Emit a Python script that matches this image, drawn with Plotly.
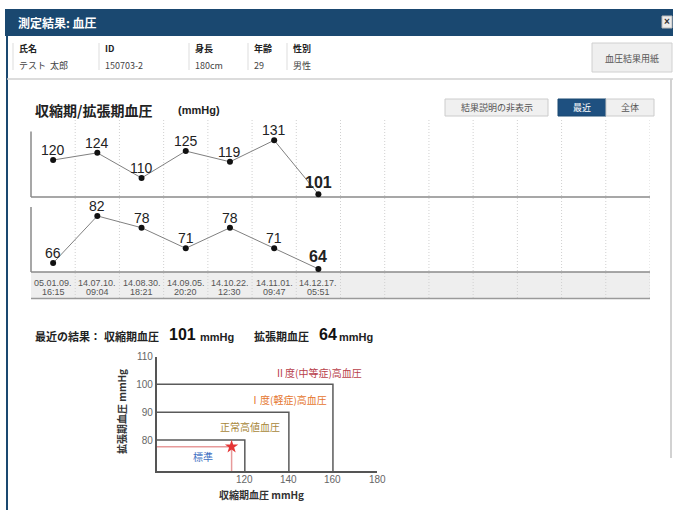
import plotly.graph_objects as go

W, H = 673, 510


def px(x):
    return x / W


def py(y):
    return 1 - y / H


# ---------------- data ----------------
dates = ["05.01.09.", "14.07.10.", "14.08.30.", "14.09.05.", "14.10.22.", "14.11.01.", "14.12.17."]
times = ["16:15", "09:04", "18:21", "20:20", "12:30", "09:47", "05:51"]
systolic = [120, 124, 110, 125, 119, 131, 101]
diastolic = [66, 82, 78, 71, 78, 71, 64]
n_columns = 14

patient_labels = ["氏名", "ID", "身長", "年齢", "性別"]
patient_values = ["テスト  太郎", "150703-2", "180cm", "29", "男性"]

class_sys = [120, 140, 160]
class_dia = [80, 90, 100]
class_names = ["標準", "正常高値血圧", "Ⅰ度(軽症)高血圧", "Ⅱ度(中等症)高血圧"]
class_colors = ["#3d6fc2", "#a8873a", "#e5762e", "#b8404a"]
sys_ticks = [120, 140, 160, 180]
dia_ticks = [80, 90, 100, 110]
marker_sys = [114]
marker_dia = [77.6]

SYS_RANGE = [80, 180]
DIA_RANGE = [68.9, 110]

LAT = "Liberation Sans, Arial, Noto Sans CJK JP, sans-serif"
CJK = "Noto Sans CJK JP, Liberation Sans, sans-serif"
NAVY = "#1a4870"

fig = go.Figure()

# ---------------- trend charts ----------------
xs = list(range(len(systolic)))
fig.add_trace(go.Scatter(
    x=xs, y=systolic, mode="lines+markers",
    line=dict(color="#808080", width=1), marker=dict(color="#111", size=6),
    xaxis="x", yaxis="y", hoverinfo="skip", showlegend=False, cliponaxis=False))
fig.add_trace(go.Scatter(
    x=xs, y=diastolic, mode="lines+markers",
    line=dict(color="#808080", width=1), marker=dict(color="#111", size=6),
    xaxis="x2", yaxis="y2", hoverinfo="skip", showlegend=False, cliponaxis=False))

# ---------------- classification chart ----------------
for s, d in zip(class_sys, class_dia):
    fig.add_trace(go.Scatter(
        x=[SYS_RANGE[0], s, s], y=[d, d, DIA_RANGE[0]], mode="lines",
        line=dict(color="#5a5a5a", width=1.5), xaxis="x3", yaxis="y3",
        hoverinfo="skip", showlegend=False))
fig.add_trace(go.Scatter(
    x=[SYS_RANGE[0], marker_sys[0], marker_sys[0]],
    y=[marker_dia[0], marker_dia[0], DIA_RANGE[0]], mode="lines",
    line=dict(color="#e79a9a", width=1.5), xaxis="x3", yaxis="y3",
    hoverinfo="skip", showlegend=False))
fig.add_trace(go.Scatter(
    x=marker_sys, y=marker_dia, mode="markers",
    marker=dict(symbol="star", color="#e53535", size=10),
    xaxis="x3", yaxis="y3", hoverinfo="skip", showlegend=False, cliponaxis=False))

hidden = dict(visible=False, fixedrange=True)
fig.update_layout(
    width=W, height=H, margin=dict(l=0, r=0, t=0, b=0, pad=0, autoexpand=False),
    paper_bgcolor="white", plot_bgcolor="rgba(0,0,0,0)",
    xaxis=dict(domain=[px(31), px(650)], range=[-0.5, n_columns - 0.5], anchor="y", **hidden),
    yaxis=dict(domain=[py(197), py(120)], range=[99.4, 142.3], anchor="x", **hidden),
    xaxis2=dict(domain=[px(31), px(650)], range=[-0.5, n_columns - 0.5], anchor="y2", **hidden),
    yaxis2=dict(domain=[py(271.7), py(198)], range=[63.05, 88.1], anchor="x2", **hidden),
    xaxis3=dict(domain=[px(156.7), px(377)], range=SYS_RANGE, anchor="y3",
                showline=True, linecolor="#555", linewidth=1.5, showgrid=False,
                zeroline=False, ticks="", showticklabels=False, automargin=False,
                fixedrange=True),
    yaxis3=dict(domain=[py(471), py(356.5)], range=DIA_RANGE, anchor="x3",
                showline=True, linecolor="#555", linewidth=1.5, showgrid=False,
                zeroline=False, ticks="", tickvals=dia_ticks, automargin=False,
                tickfont=dict(family=LAT, size=10, color="#666"), fixedrange=True),
)

shapes = []
ann = []


def rect(x0, y0, x1, y1, fill, line=None, lw=0):
    shapes.append(dict(type="rect", xref="paper", yref="paper",
                       x0=px(x0), x1=px(x1), y0=py(y1), y1=py(y0),
                       fillcolor=fill, line=dict(color=line or fill, width=lw),
                       layer="below"))


def hline(x0, x1, y, color, w=1, dash=None):
    shapes.append(dict(type="line", xref="paper", yref="paper",
                       x0=px(x0), x1=px(x1), y0=py(y), y1=py(y),
                       line=dict(color=color, width=w, dash=dash), layer="below"))


def vline(x, y0, y1, color, w=1, dash=None):
    shapes.append(dict(type="line", xref="paper", yref="paper",
                       x0=px(x), x1=px(x), y0=py(y0), y1=py(y1),
                       line=dict(color=color, width=w, dash=dash), layer="below"))


def text(x, y, s, size=10, color="#333", family=CJK, xanchor="left", bold=False, angle=0):
    ann.append(dict(xref="paper", yref="paper", x=px(x), y=py(y),
                    text=("<b>%s</b>" % s) if bold else s, showarrow=False,
                    xanchor=xanchor, yanchor="middle", textangle=angle,
                    font=dict(family=family, size=size, color=color)))


# value labels above the points
for xr, yr, vals in (("x", "y", systolic), ("x2", "y2", diastolic)):
    for i, v in enumerate(vals):
        last = i == len(vals) - 1
        ann.append(dict(xref=xr, yref=yr, x=i, y=v,
                        text=("<b>%d</b>" % v) if last else str(v),
                        showarrow=False, xanchor="center", yanchor="middle",
                        yshift=12 if last else 10,
                        font=dict(family=LAT, size=16 if last else 14, color="#222")))

# x tick labels for the classification chart
for t in sys_ticks:
    ann.append(dict(xref="x3", yref="paper", x=t, y=py(479), text=str(t), showarrow=False,
                    xanchor="center", yanchor="middle",
                    font=dict(family=LAT, size=10, color="#666")))

# dialog header
rect(5, 9, 673, 36, NAVY)
text(16, 23, "測定結果: 血圧", size=12, color="white", bold=True)
rect(662, 16, 672, 28, "#ececec", "#bbbbbb", 1)
text(667, 22, "×", size=10, color="#333", family=LAT, xanchor="center", bold=True)
# left border
vline(7, 36, 510, NAVY, 2)

# patient info row
sep_x = [13, 99, 189, 248, 287]
for sx, lab, val in zip(sep_x, patient_labels, patient_values):
    vline(sx, 43, 70, "#dddddd", 1)
    text(sx + 4, 49, lab, size=9, color="#222", bold=True)
    text(sx + 4, 65, val, size=9, color="#444")
rect(592, 43, 672, 72, "#efefef", "#d0d0d0", 1)
text(632, 58, "血圧結果用紙", size=9, color="#555", xanchor="center")
hline(7, 673, 79, "#d0d0d0", 1.5)
vline(671, 79, 458, "#d2d2d2", 2)

# chart title and buttons
text(33, 110, "収縮期/拡張期血圧", size=14, color="#222", bold=True)
text(176, 110, "(mmHg)", size=11, color="#222", family=LAT, bold=True)
rect(445, 99, 548, 116, "#f0f0f0", "#cccccc", 1)
text(496.5, 107.5, "結果説明の非表示", size=9, color="#555", xanchor="center")
rect(558, 99, 606, 116, "#1e5080", "#1a4870", 1)
text(582, 107.5, "最近", size=9, color="white", xanchor="center")
rect(606, 99, 654, 116, "#f0f0f0", "#cccccc", 1)
text(630, 107.5, "全体", size=9, color="#555", xanchor="center")

# date row background
rect(31, 272, 650, 298, "#eeeeee")
# column grid (dotted)
for k in range(1, n_columns + 1):
    shapes.append(dict(type="line", xref="x", yref="paper", x0=k - 0.5, x1=k - 0.5,
                       y0=py(298), y1=py(120),
                       line=dict(color="#d0d0d0", width=1, dash="1px,2px"), layer="below"))
vline(31, 131.5, 197, "#8a8a8a", 1.5)
vline(31, 207, 272, "#8a8a8a", 1.5)
hline(31, 650, 197, "#8a8a8a", 1.5)
hline(31, 650, 272, "#8a8a8a", 1.5)
hline(31, 650, 298.5, "#9a9a9a", 1.5)

# date labels
for i, (d, t) in enumerate(zip(dates, times)):
    ann.append(dict(xref="x2", yref="paper", x=i, y=py(282.5), text=d, showarrow=False,
                    xanchor="center", yanchor="middle",
                    font=dict(family=LAT, size=9, color="#555")))
    ann.append(dict(xref="x2", yref="paper", x=i, y=py(292), text=t, showarrow=False,
                    xanchor="center", yanchor="middle",
                    font=dict(family=LAT, size=9, color="#555")))

# latest result line
text(33, 336, "最近の結果：", size=11, color="#222", bold=True)
text(102, 336, "収縮期血圧", size=11, color="#222", bold=True)
text(167, 334, str(systolic[-1]), size=16, color="#111", family=LAT, bold=True)
text(198, 337, "mmHg", size=11, color="#222", family=LAT, bold=True)
text(252, 336, "拡張期血圧", size=11, color="#222", bold=True)
text(317, 334, str(diastolic[-1]), size=16, color="#111", family=LAT, bold=True)
text(337, 337, "mmHg", size=11, color="#222", family=LAT, bold=True)

# classification labels
label_pos = [(202.7, 456.7), (250, 426), (288, 399), (318, 372.7)]
for (lx, ly), name, col in zip(label_pos, class_names, class_colors):
    text(lx, ly, name, size=10, color=col, xanchor="center")

# axis titles
text(121.5, 411.5, "拡張期血圧 mmHg", size=10, color="#333", xanchor="center", bold=True, angle=-90)
text(261.5, 494, "収縮期血圧 mmHg", size=10, color="#333", xanchor="center", bold=True)

fig.update_layout(shapes=shapes, annotations=ann)
fig.write_html("out.html", config={"displayModeBar": False},
               post_script="document.body.style.margin='0';document.body.style.padding='0';")
